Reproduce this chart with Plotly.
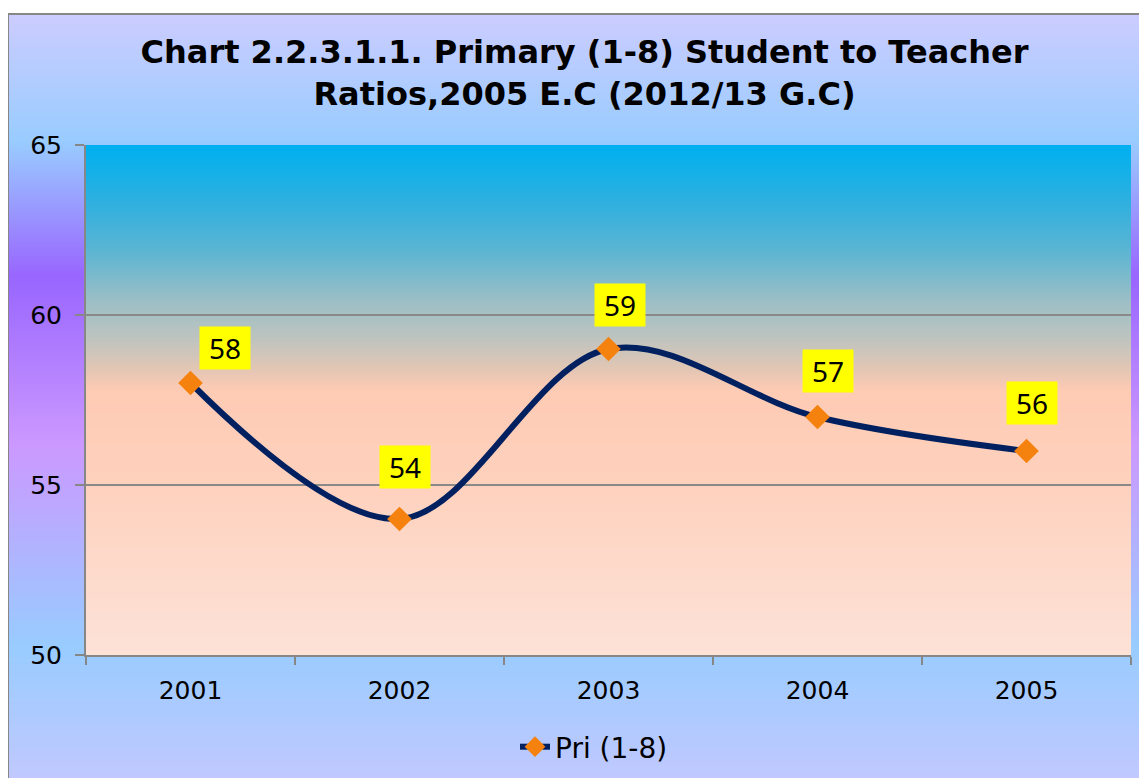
import base64, struct, zlib
import plotly.graph_objects as go

# ---- data ----
years = ["2001", "2002", "2003", "2004", "2005"]
ratios = [58, 54, 59, 57, 56]
series_name = "Pri (1-8)"
title_text = "Chart 2.2.3.1.1. Primary (1-8) Student to Teacher<br>Ratios,2005 E.C (2012/13 G.C)"
y_ticks = [50, 55, 60, 65]

# label placement (style: pixel offsets of the yellow data labels)
label_dx = [34, 5, 11, 10, 5]
label_dy = [35, 52, 44, 46, 48]

W, H = 1147, 778
L, T = 78, 137
R, B = W - 1123, H - 647
PW, PH = W - L - R, H - T - B


def hex2rgb(h):
    h = h.lstrip("#")
    return tuple(int(h[i:i + 2], 16) for i in (0, 2, 4))


def gradient_png(stops, n=256, w=2):
    rows = []
    for i in range(n):
        t = i / (n - 1)
        for (t0, c0), (t1, c1) in zip(stops[:-1], stops[1:]):
            if t0 <= t <= t1:
                f = 0 if t1 == t0 else (t - t0) / (t1 - t0)
                a, b = hex2rgb(c0), hex2rgb(c1)
                rows.append(tuple(round(a[k] + (b[k] - a[k]) * f) for k in range(3)))
                break
    raw = b"".join(b"\x00" + bytes(r) * w for r in rows)

    def chunk(tag, data):
        c = struct.pack(">I", len(data)) + tag + data
        return c + struct.pack(">I", zlib.crc32(tag + data) & 0xffffffff)

    png = b"\x89PNG\r\n\x1a\n" + chunk(b"IHDR", struct.pack(">IIBBBBB", w, n, 8, 2, 0, 0, 0)) \
        + chunk(b"IDAT", zlib.compress(raw, 9)) + chunk(b"IEND", b"")
    return "data:image/png;base64," + base64.b64encode(png).decode()


outer_stops = [(0.0, "#ccccff"), (0.162, "#99ccff"), (0.334, "#9966ff"), (0.549, "#cc99ff"),
               (0.807, "#99ccff"), (1.0, "#c6c8ff")]
plot_stops = [(0.0, "#00b0f0"), (0.108, "#2eb0e0"), (0.206, "#5cb5d3"), (0.304, "#9bbfc6"),
              (0.382, "#c0c4bf"), (0.441, "#e4c6b4"), (0.48, "#fecbb4"), (0.657, "#fed1bd"),
              (1.0, "#fde2d8")]

# paper coordinates of the outer chart box (left edge x=0px, top edge y=6px of the figure)
ox0 = (0 - L) / PW
ox1 = (1170 - L) / PW
oy1 = (H - B - 6) / PH
oy0 = (H - B - 790) / PH

fig = go.Figure()
fig.add_trace(go.Scatter(
    x=years, y=ratios, name=series_name, mode="lines+markers",
    line=dict(color="#002060", width=6, shape="spline", smoothing=1.0),
    marker=dict(symbol="diamond", size=19, color="#f5820f", line=dict(width=0)),
    cliponaxis=False,
))

for i, (yv, dx, dy) in enumerate(zip(ratios, label_dx, label_dy)):
    fig.add_annotation(x=i, y=yv, xref="x", yref="y", text=str(yv), showarrow=False,
                       xshift=dx, yshift=dy, bgcolor="#ffff00", width=48, height=40,
                       borderpad=1, font=dict(family="Noto Sans", size=28, color="black"))

fig.update_layout(
    width=W, height=H,
    margin=dict(l=L, r=R, t=T, b=B),
    paper_bgcolor="white",
    plot_bgcolor="rgba(0,0,0,0)",
    title=dict(text=title_text, x=576.5 / W, xanchor="center", xref="container",
               y=1 - 55 / H, yanchor="top", yref="container",
               font=dict(family="DejaVu Sans", size=32, color="black", weight="bold")),
    font=dict(family="DejaVu Sans", color="black"),
    showlegend=True,
    legend=dict(orientation="h", xref="container", yref="container", x=586 / W, xanchor="center",
                y=1 - 739 / H, yanchor="middle", bgcolor="rgba(0,0,0,0)",
                font=dict(family="DejaVu Sans", size=28, color="black")),
    images=[
        dict(source=gradient_png(outer_stops), xref="paper", yref="paper", x=ox0, y=oy1,
             sizex=ox1 - ox0, sizey=oy1 - oy0, sizing="stretch", xanchor="left", yanchor="top",
             layer="below"),
        dict(source=gradient_png(plot_stops), xref="paper", yref="paper", x=0, y=1,
             sizex=1, sizey=1, sizing="stretch", xanchor="left", yanchor="top", layer="below"),
    ],
    shapes=[
        dict(type="line", xref="paper", yref="paper", x0=ox0, x1=ox0, y0=oy0, y1=oy1,
             line=dict(color="#878787", width=2)),
        dict(type="line", xref="paper", yref="paper", x0=ox0, x1=ox1, y0=oy1, y1=oy1,
             line=dict(color="#878787", width=2)),
    ],
)

fig.update_xaxes(type="category", range=[-0.5, 4.5], tickson="boundaries", ticks="outside",
                 ticklen=8, tickwidth=2, tickcolor="#878787", showline=True, linecolor="#878787",
                 linewidth=2, showgrid=False, zeroline=False, ticklabelstandoff=12,
                 tickfont=dict(family="DejaVu Sans", size=25, color="black"))
fig.update_yaxes(range=[50, 65], tickvals=y_ticks, ticks="outside", ticklen=9, tickwidth=2,
                 tickcolor="#878787", showline=True, linecolor="#878787", linewidth=2,
                 showgrid=True, gridcolor="#898989", gridwidth=1.6, zeroline=False,
                 ticklabelstandoff=8,
                 tickfont=dict(family="DejaVu Sans", size=25, color="black"))

fig.write_html("out.html")
